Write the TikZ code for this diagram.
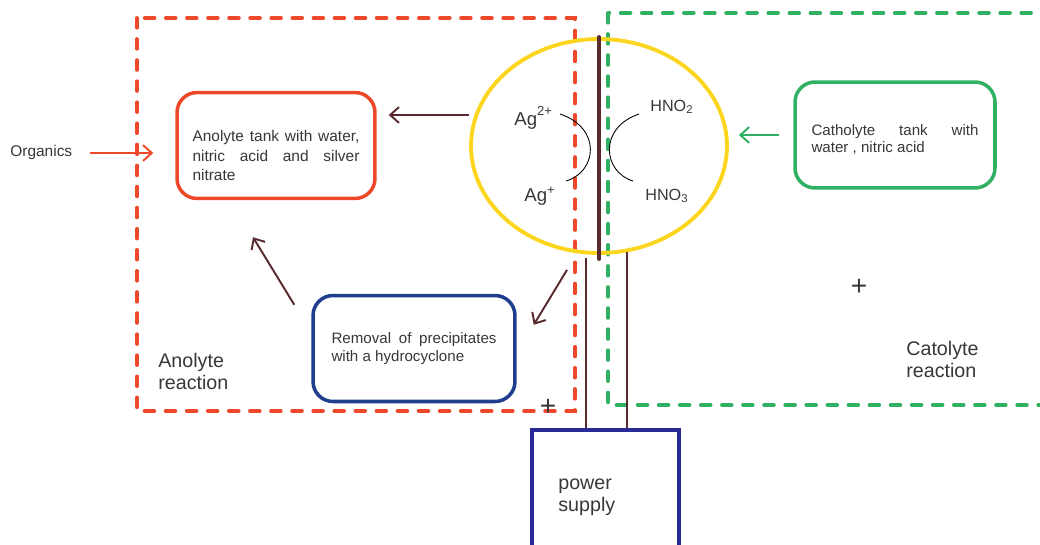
\documentclass[tikz,border=0pt]{standalone}
\usepackage{fontspec}
\setmainfont{Liberation Sans}
\usepackage{tikz}
\usetikzlibrary{arrows.meta,positioning,shapes.geometric}
\definecolor{anored}{RGB}{238,72,42}
\definecolor{catgreen}{RGB}{48,176,98}
\definecolor{cellyellow}{RGB}{252,214,30}
\definecolor{wirebrown}{RGB}{88,42,46}
\definecolor{sepblue}{RGB}{32,62,142}
\definecolor{psblue}{RGB}{42,42,150}
\definecolor{txtgray}{RGB}{55,55,55}

\begin{document}
\begin{tikzpicture}[x=0.02cm, y=-0.02cm, >={Straight Barb[length=5pt,width=9pt]},
  every node/.style={text=txtgray, font=\fontsize{8.8}{11.2}\selectfont},
  tankbox/.style={draw, rounded corners=0.4cm, line width=2pt, minimum height=2.12cm, align=justify, text width=3.34cm, inner sep=0pt,
    execute at begin node={\hyphenpenalty=10000\exhyphenpenalty=10000}},
  bigtext/.style={font=\fontsize{11.2}{12.5}\selectfont, align=left, anchor=west, inner sep=0pt},
  ion/.style={font=\fontsize{10.6}{12}\selectfont, anchor=west, inner sep=0pt},
  plus/.style={font=\fontsize{16}{16}\selectfont},
  dashbox/.style={line width=2.2pt, dash pattern=on 5.5pt off 6.5pt, line cap=round},
  arr/.style={->, wirebrown, line width=1.1pt},
  wire/.style={wirebrown, line width=0.9pt}]
\useasboundingbox (0,0) rectangle (1040,544);
\clip (0,0) rectangle (1040,544);
% reaction zones
\draw[dashbox, anored] (137,18) rectangle (575,411);
\draw[dashbox, catgreen] (608,13) rectangle (1060,405);
% cell
\node[draw=cellyellow, ellipse, line width=2.2pt, minimum width=5.12cm, minimum height=4.28cm] (cell) at (599,146) {};
\draw[wirebrown, line width=2.3pt, line cap=round] (cell.north) -- ([yshift=-0.08cm]cell.south);
\node[ion] (agii) at (514,118) {Ag\raisebox{1.5pt}{\textsuperscript{2+}}};
\node[ion] (agi) at (524,196) {Ag\textsuperscript{+}};
\node[ion, font=\fontsize{9.2}{11}\selectfont] (hnoii) at (650,107) {HNO\textsubscript{2}};
\node[ion, font=\fontsize{9.2}{11}\selectfont] (hnoiii) at (645,196) {HNO\textsubscript{3}};
\draw[black, line width=0.5pt] (560,114) .. controls (602,128) and (597,172) .. (566,181);
\draw[black, line width=0.5pt] (639,114) .. controls (598,128) and (603,172) .. (633,181);
% tanks
\node[tankbox, draw=anored, minimum width=3.96cm] (anotank) at (276,145.5) {\rule{0pt}{18pt}Anolyte tank with water, nitric acid and silver nitrate};
\node[tankbox, draw=catgreen, minimum width=4cm, font=\fontsize{8.6}{9.8}\selectfont] (cattank) at (895,135) {\rule{0pt}{11pt}Catholyte tank with\linebreak water , nitric acid};
\node[tankbox, draw=sepblue, minimum width=4.04cm, text width=3.3cm, font=\fontsize{8.6}{9.8}\selectfont] (cyclone) at (414,348.5) {Removal of precipitates with a hydrocyclone};
\node[anchor=west, inner sep=0pt] (org) at (10,153) {Organics};
% power supply
\node[draw=psblue, line width=1.8pt, minimum width=2.94cm, minimum height=2.6cm] (power) at (605.5,495) {};
\node[bigtext] (pslabel) at (558,497) {power\\supply};
\coordinate (wa) at (586,258);
\coordinate (wb) at (627,252);
\draw[wire] (wa) -- (wa |- power.north);
\draw[wire] (wb) -- (wb |- power.north);
% flows
\draw[->, anored, line width=1.1pt, shorten <=0.34cm, shorten >=0.44cm] (org) -- (org -| anotank.west);
\draw[->, catgreen, line width=1.1pt, shorten <=0.28cm, shorten >=0.2cm] (cattank.west) -- (cattank.west -| cell.east);
\draw[arr] (cell.west |- 0,115) -- ([xshift=0.24cm]anotank.east |- 0,115);
\draw[arr] ([shift={(-32,15)}]cell.south) -- ([shift={(17,31)}]cyclone.north east);
\draw[arr] ([shift={(-17,11)}]cyclone.north west) -- ([shift={(-23,37)}]anotank.south);
% labels
\node[bigtext] (anolabel) at (158,371) {Anolyte\\reaction};
\node[bigtext] (catlabel) at (906,359) {Catolyte\\reaction};
\node[plus] (pcat) at (859,287) {+};
\node[plus] (pano) at (548,407) {+};
\end{tikzpicture}
\end{document}
